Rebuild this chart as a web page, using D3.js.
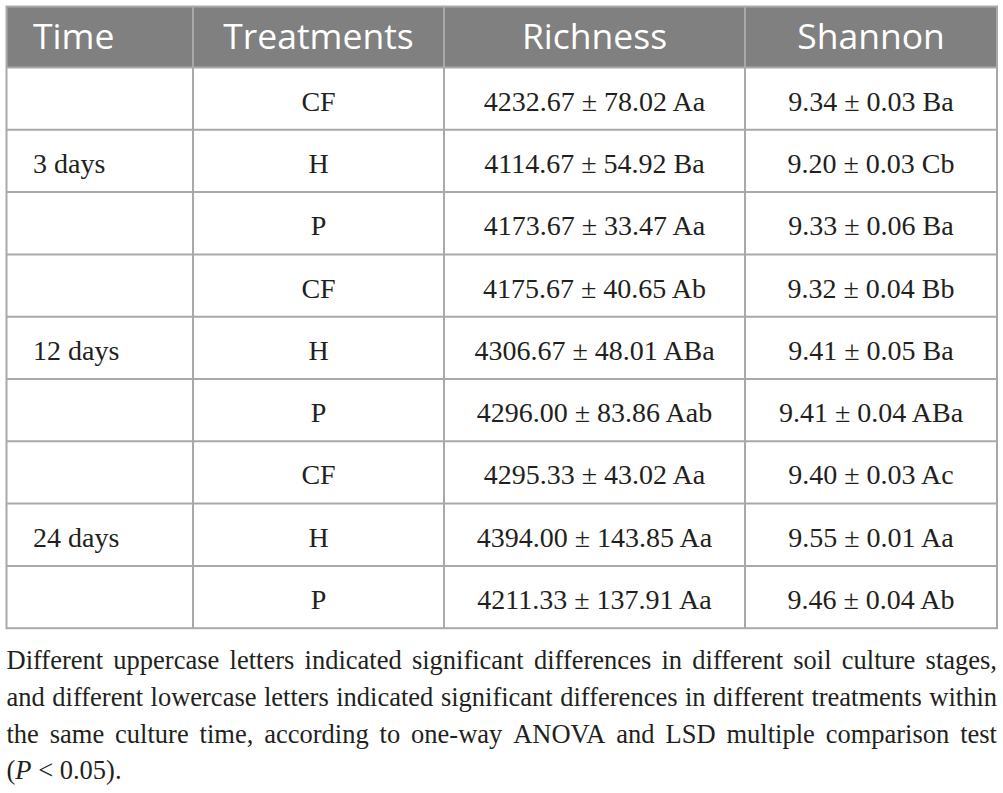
<!DOCTYPE html>
<html>
<head>
<meta charset="utf-8">
<script src="https://cdn.jsdelivr.net/npm/d3@7"></script>
<style>
  body { margin: 0; background: #fff; }
</style>
</head>
<body>
<div id="table"></div>
<script>
const headers = ["Time", "Treatments", "Richness", "Shannon"];
const times = ["3 days", "12 days", "24 days"];
const treatments = ["CF", "H", "P"];

const richnessMean = [4232.67, 4114.67, 4173.67, 4175.67, 4306.67, 4296.00, 4295.33, 4394.00, 4211.33];
const richnessSD = [78.02, 54.92, 33.47, 40.65, 48.01, 83.86, 43.02, 143.85, 137.91];
const richnessLetters = ["Aa", "Ba", "Aa", "Ab", "ABa", "Aab", "Aa", "Aa", "Aa"];

const shannonMean = [9.34, 9.20, 9.33, 9.32, 9.41, 9.41, 9.40, 9.55, 9.46];
const shannonSD = [0.03, 0.03, 0.06, 0.04, 0.05, 0.04, 0.03, 0.01, 0.04];
const shannonLetters = ["Ba", "Cb", "Ba", "Bb", "Ba", "ABa", "Ac", "Aa", "Ab"];

const footnoteLines = [
  "Different uppercase letters indicated significant differences in different soil culture stages,",
  "and different lowercase letters indicated significant differences in different treatments within",
  "the same culture time, according to one-way ANOVA and LSD multiple comparison test"
];

(() => {
  const width = 1003, height = 793;
  const svg = d3.select("#table")
    .append("svg")
    .attr("width", width)
    .attr("height", height);

  const left = 6.5, right = 997;
  const colEdges = [left, 193, 444, 745, right];
  const headTop = 6.5, headBottom = 67.5, rowH = 62.3;
  const lineColor = "#a9a9a9";
  const f2 = d3.format(".2f");

  // one record per table row
  const rows = [];
  times.forEach((t, i) => treatments.forEach((tr, j) => {
    const k = i * 3 + j;
    rows.push({
      time: j === 1 ? t : "",
      treatment: tr,
      richness: `${f2(richnessMean[k])} \u00b1 ${f2(richnessSD[k])} ${richnessLetters[k]}`,
      shannon: `${f2(shannonMean[k])} \u00b1 ${f2(shannonSD[k])} ${shannonLetters[k]}`
    });
  }));

  const y = d3.scaleBand()
    .domain(d3.range(rows.length))
    .range([headBottom, headBottom + rows.length * rowH]);

  const x = d3.scaleOrdinal()
    .domain(headers)
    .range(d3.range(4));
  const colMid = c => (colEdges[x(c)] + colEdges[x(c) + 1]) / 2;

  // header
  svg.append("rect")
    .attr("x", left).attr("y", headTop)
    .attr("width", right - left).attr("height", headBottom - headTop)
    .attr("fill", "#808080");

  svg.append("g").selectAll("text")
    .data(headers)
    .join("text")
    .attr("x", d => d === "Time" ? 33 : colMid(d))
    .attr("y", 48.5)
    .attr("text-anchor", d => d === "Time" ? "start" : "middle")
    .style("font-family", "'Open Sans', sans-serif")
    .style("font-size", "35.5px")
    .style("fill", "#fff")
    .text(d => d);

  // body cells
  const body = svg.append("g")
    .style("font-family", "'Liberation Serif', serif")
    .style("font-size", "28px")
    .style("fill", "#231f20");

  const rowG = body.selectAll("g")
    .data(rows)
    .join("g")
    .attr("transform", (d, i) => `translate(0, ${y(i) + y.bandwidth() / 2 + 12})`);

  rowG.append("text")
    .attr("x", 33)
    .text(d => d.time);

  rowG.append("text")
    .attr("x", colMid("Treatments"))
    .attr("text-anchor", "middle")
    .text(d => d.treatment);

  rowG.append("text")
    .attr("x", colMid("Richness"))
    .attr("text-anchor", "middle")
    .text(d => d.richness);

  rowG.append("text")
    .attr("x", colMid("Shannon"))
    .attr("text-anchor", "middle")
    .text(d => d.shannon);

  // grid lines
  const bottom = headBottom + rows.length * rowH;
  const grid = svg.append("g")
    .attr("stroke", lineColor)
    .attr("stroke-width", 2)
    .attr("fill", "none");

  grid.selectAll("line.h")
    .data(d3.range(rows.length))
    .join("line")
    .attr("class", "h")
    .attr("x1", left).attr("x2", right)
    .attr("y1", i => y(i)).attr("y2", i => y(i));

  grid.selectAll("line.v")
    .data(colEdges.slice(1, -1))
    .join("line")
    .attr("class", "v")
    .attr("x1", d => d).attr("x2", d => d)
    .attr("y1", headTop).attr("y2", bottom);

  grid.append("rect")
    .attr("x", left).attr("y", headTop)
    .attr("width", right - left).attr("height", bottom - headTop);

  // footnote, justified lines
  const note = svg.append("g")
    .style("font-family", "'Liberation Serif', serif")
    .style("font-size", "26.5px")
    .style("fill", "#231f20");

  const baselines = [669, 706, 743, 779];

  footnoteLines.forEach((line, li) => {
    const words = line.split(" ");
    const t = note.append("text").attr("y", baselines[li]);
    const spans = words.map(w => t.append("tspan").text(w));
    const widths = spans.map(s => s.node().getComputedTextLength());
    const gap = (right - left - d3.sum(widths)) / (words.length - 1);
    let cx = left;
    spans.forEach((s, i) => { s.attr("x", cx); cx += widths[i] + gap; });
  });

  const last = note.append("text")
    .attr("x", left)
    .attr("y", baselines[3])
    .attr("xml:space", "preserve");
  last.append("tspan").text("(");
  last.append("tspan").style("font-style", "italic").text("P");
  last.append("tspan").text(" < 0.05).");
})();
</script>
</body>
</html>
